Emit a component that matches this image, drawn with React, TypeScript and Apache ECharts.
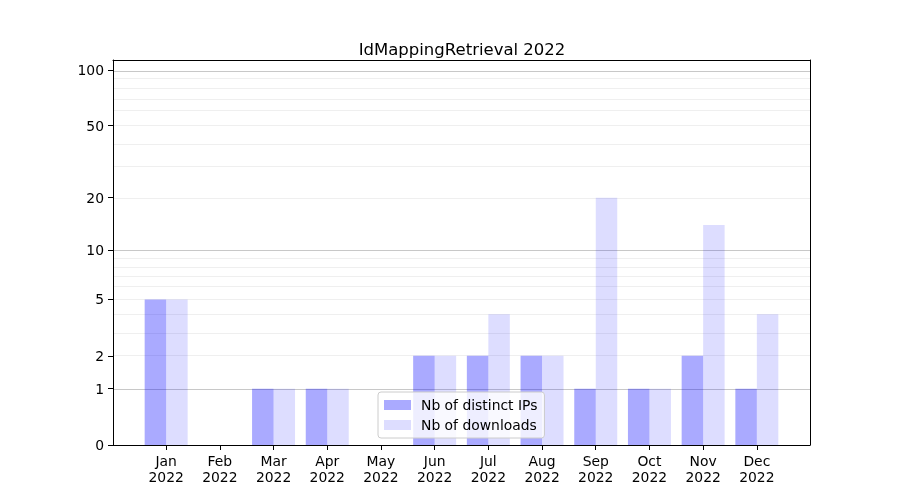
import React, { useEffect, useRef } from "react";
import * as echarts from "echarts";

const months = ["Jan", "Feb", "Mar", "Apr", "May", "Jun", "Jul", "Aug", "Sep", "Oct", "Nov", "Dec"];
const yearLabel = "2022";
const distinctIPs = [5, 0, 1, 1, 0, 2, 2, 2, 1, 1, 2, 1];
const downloads = [5, 0, 1, 1, 0, 2, 4, 2, 20, 1, 14, 4];
const yTicks = [0, 1, 2, 5, 10, 20, 50, 100];
const majorGrid = [1, 10, 100];
const minorGrid = [2, 3, 4, 5, 6, 7, 8, 9, 20, 30, 40, 50, 60, 70, 80, 90];
const yMaxValue = 113.5;

const tf = (v: number) => Math.log10(v + 1);
const FONT = "DejaVu Sans";
const X_MIN = -0.99;
const X_MAX = 11.99;

export default function App() {
  const ref = useRef<HTMLDivElement>(null);
  useEffect(() => {
    if (!ref.current) return;
    const chart = echarts.init(ref.current, undefined, { renderer: "svg" });
    const xIdx = months.map((_, i) => i);
    const gridLines = [
      ...minorGrid.map((v) => ({ yAxis: tf(v), lineStyle: { color: "#ebebeb", width: 0.8, type: "solid" } })),
      ...majorGrid.map((v) => ({ yAxis: tf(v), lineStyle: { color: "#c8c8c8", width: 1, type: "solid" } })),
    ];
    const frameAxis = {
      splitLine: { show: false },
      axisTick: { show: false },
      axisLabel: { show: false },
      axisLine: { show: true, onZero: false, lineStyle: { color: "#000", width: 1 } },
      z: 10,
    };
    chart.setOption({
      animation: false,
      textStyle: { fontFamily: FONT },
      title: {
        text: "IdMappingRetrieval " + yearLabel,
        left: 457,
        top: 36,
        textAlign: "center",
        textStyle: { fontFamily: FONT, fontSize: 16.5, fontWeight: "normal", color: "#000" },
      },
      grid: {
        left: 113,
        top: 60,
        width: 697,
        height: 385,
        show: false,
      },
      legend: {
        orient: "vertical",
        left: 378,
        top: 392,
        padding: [6, 7, 6, 6],
        itemGap: 6,
        itemWidth: 27,
        itemHeight: 10,
        icon: "rect",
        backgroundColor: "rgba(255,255,255,0.8)",
        borderColor: "#cccccc",
        borderWidth: 1,
        borderRadius: 3,
        textStyle: { fontFamily: FONT, fontSize: 13.9, color: "#000", padding: [0, 0, 0, 5] },
        data: ["Nb of distinct IPs", "Nb of downloads"],
      },
      xAxis: [
        {
          type: "value",
          min: X_MIN,
          max: X_MAX,
          position: "bottom",
          splitLine: { show: false },
          axisLine: { show: true, onZero: false, lineStyle: { color: "#000", width: 1 } },
          axisTick: { show: true, customValues: xIdx, length: 5, lineStyle: { color: "#000" } },
          axisLabel: {
            customValues: xIdx,
            formatter: (v: number) => months[Math.round(v)] + "\n" + yearLabel,
            fontFamily: FONT,
            fontSize: 13.9,
            lineHeight: 16,
            color: "#000",
            margin: 8,
          },
          z: 10,
        },
        { type: "value", min: X_MIN, max: X_MAX, position: "top", ...frameAxis },
      ],
      yAxis: [
        {
          type: "value",
          min: 0,
          max: tf(yMaxValue),
          position: "left",
          splitLine: { show: false },
          axisLine: { show: true, onZero: false, lineStyle: { color: "#000", width: 1 } },
          axisTick: { show: true, customValues: yTicks.map(tf), length: 5, lineStyle: { color: "#000" } },
          axisLabel: {
            customValues: yTicks.map(tf),
            formatter: (v: number) => String(Math.round(Math.pow(10, v) - 1)),
            fontFamily: FONT,
            fontSize: 13.9,
            color: "#000",
            margin: 9,
          },
          z: 10,
        },
        { type: "value", min: 0, max: tf(yMaxValue), position: "right", ...frameAxis },
      ],
      series: [
        {
          name: "grid",
          type: "line",
          data: [],
          silent: true,
          z: 1,
          markLine: {
            silent: true,
            symbol: ["none", "none"],
            label: { show: false },
            z: 1,
            data: gridLines,
          },
        },
        {
          name: "Nb of distinct IPs",
          type: "bar",
          barWidth: 21.5,
          barGap: "0%",
          itemStyle: { color: "rgba(0,0,255,0.333)" },
          data: distinctIPs.map((v, i) => [i, tf(v)]),
          z: 2,
        },
        {
          name: "Nb of downloads",
          type: "bar",
          barWidth: 21.5,
          barGap: "0%",
          itemStyle: { color: "rgba(0,0,255,0.135)" },
          data: downloads.map((v, i) => [i, tf(v)]),
          z: 2,
        },
      ],
    });
    return () => chart.dispose();
  }, []);
  return <div ref={ref} style={{ position: "fixed", left: 0, top: 0, width: 900, height: 500 }} />;
}
